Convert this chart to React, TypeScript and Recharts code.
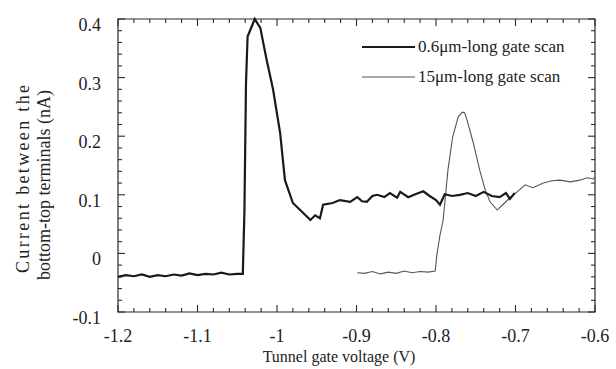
import React from 'react';
import { LineChart, Line, XAxis, YAxis, Label, Legend, ReferenceArea, ReferenceLine } from 'recharts';

const thickX = [
  -1.2, -1.19, -1.18, -1.17, -1.16, -1.15, -1.14, -1.13, -1.12, -1.11, -1.1, -1.09, -1.08, -1.07, -1.06,
  -1.05, -1.043, -1.041, -1.039, -1.037, -1.034, -1.028, -1.021, -1.013, -1.005, -0.996, -0.99, -0.98,
  -0.967, -0.958, -0.952, -0.946, -0.942, -0.93, -0.921, -0.908, -0.899, -0.893, -0.887, -0.88, -0.874,
  -0.865, -0.858, -0.849, -0.845, -0.835, -0.826, -0.816, -0.808, -0.8, -0.795, -0.789, -0.78, -0.77,
  -0.76, -0.75, -0.74, -0.73, -0.72, -0.712, -0.707, -0.701,
];
const thickY = [
  -0.04, -0.037, -0.039, -0.036, -0.04, -0.037, -0.039, -0.036, -0.038, -0.034, -0.037, -0.035, -0.036, -0.033, -0.036,
  -0.035, -0.035, 0.07, 0.29, 0.37, 0.38, 0.4, 0.385, 0.33, 0.28, 0.205, 0.125, 0.086,
  0.069, 0.057, 0.065, 0.06, 0.083, 0.086, 0.091, 0.088, 0.096, 0.089, 0.088, 0.098, 0.1,
  0.096, 0.103, 0.095, 0.105, 0.096, 0.101, 0.106, 0.098, 0.091, 0.083, 0.101, 0.098, 0.1,
  0.103, 0.098, 0.105, 0.098, 0.096, 0.103, 0.093, 0.103,
];

const thinX = [
  -0.899, -0.89, -0.88, -0.87, -0.86, -0.85, -0.84, -0.83, -0.82, -0.81, -0.801, -0.799, -0.795, -0.791,
  -0.785, -0.779, -0.772, -0.767, -0.764, -0.761, -0.753, -0.745, -0.738, -0.732, -0.723, -0.716, -0.707,
  -0.698, -0.688, -0.678, -0.665, -0.654, -0.644, -0.631, -0.619, -0.61, -0.602, -0.6,
];
const thinY = [
  -0.033, -0.034, -0.031, -0.035, -0.032, -0.034, -0.03, -0.033, -0.031, -0.032, -0.03, -0.003, 0.031, 0.057,
  0.142, 0.199, 0.233, 0.241, 0.24, 0.228, 0.188, 0.142, 0.108, 0.088, 0.074, 0.083, 0.095,
  0.105, 0.117, 0.112, 0.12, 0.124, 0.125, 0.122, 0.125, 0.129, 0.127, 0.13,
];

const xTicks = [-1.2, -1.1, -1, -0.9, -0.8, -0.7, -0.6];
const yTicks = [-0.1, 0, 0.1, 0.2, 0.3, 0.4];
const xMinorTicks = [
  -1.18, -1.16, -1.14, -1.12, -1.08, -1.06, -1.04, -1.02, -0.98, -0.96, -0.94, -0.92,
  -0.88, -0.86, -0.84, -0.82, -0.78, -0.76, -0.74, -0.72, -0.68, -0.66, -0.64, -0.62,
];
const yMinorTicks = [
  -0.08, -0.06, -0.04, -0.02, 0.02, 0.04, 0.06, 0.08, 0.12, 0.14, 0.16, 0.18,
  0.22, 0.24, 0.26, 0.28, 0.32, 0.34, 0.36, 0.38,
];

const seriesNames = ['0.6\u03bcm-long gate scan', '15\u03bcm-long gate scan'];

const X_MIN = -1.2;
const X_MAX = -0.6;
const Y_MIN = -0.1;
const Y_MAX = 0.4;
// inward tick lengths, in data units (~7px major, ~4px minor)
const TICK_X = { major: 0.0088, minor: 0.005 };
const TICK_Y = { major: 0.012, minor: 0.007 };

const thickData = thickX.map((x, i) => ({ x, y: thickY[i] }));
const thinData = thinX.map((x, i) => ({ x, y: thinY[i] }));

const FONT = "'Liberation Serif', 'DejaVu Serif', serif";
const INK = '#222';
const FRAME = '#2a2a2a';

// tick segments on all four sides of the frame
const tickSegments: { key: string; seg: { x: number; y: number }[] }[] = [];
const addX = (list: number[], len: number, kind: string) => {
  list.forEach((v) => {
    tickSegments.push({ key: `b${kind}${v}`, seg: [{ x: v, y: Y_MIN }, { x: v, y: Y_MIN + len }] });
    tickSegments.push({ key: `t${kind}${v}`, seg: [{ x: v, y: Y_MAX }, { x: v, y: Y_MAX - len }] });
  });
};
const addY = (list: number[], len: number, kind: string) => {
  list.forEach((v) => {
    tickSegments.push({ key: `l${kind}${v}`, seg: [{ x: X_MIN, y: v }, { x: X_MIN + len, y: v }] });
    tickSegments.push({ key: `r${kind}${v}`, seg: [{ x: X_MAX, y: v }, { x: X_MAX - len, y: v }] });
  });
};
addX(xTicks, TICK_Y.major, 'M');
addX(xMinorTicks, TICK_Y.minor, 'm');
addY(yTicks, TICK_X.major, 'M');
addY(yMinorTicks, TICK_X.minor, 'm');

function BottomTick(props: any) {
  const { x, y, payload } = props;
  return (
    <text x={x} y={y + 30} textAnchor="middle" fontFamily={FONT} fontSize={18} fill={INK}>
      {String(payload.value)}
    </text>
  );
}

function LeftTick(props: any) {
  const { x, y, payload } = props;
  return (
    <text x={x - 17} y={y + 12} textAnchor="end" fontFamily={FONT} fontSize={18} fill={INK}>
      {String(payload.value)}
    </text>
  );
}

function renderLegend() {
  return (
    <div style={{ fontFamily: FONT, fontSize: 17, color: INK }}>
      {seriesNames.map((name, i) => (
        <div key={name} style={{ display: 'flex', alignItems: 'center', height: 30 }}>
          <svg width={54} height={10}>
            <line x1={0} y1={5} x2={53} y2={5} stroke={i === 0 ? '#1a1a1a' : '#555'} strokeWidth={i === 0 ? 2 : 1.1} />
          </svg>
          <span style={{ marginLeft: 2 }}>{name}</span>
        </div>
      ))}
    </div>
  );
}

// both axis titles, placed from the left axis label slot
function AxisTitles() {
  return (
    <g fontFamily={FONT} fill={INK}>
      <text x={29} y={179} fontSize={18} textAnchor="middle" transform="rotate(-90, 29, 179)" textLength={188} lengthAdjust="spacing">
        Current between the
      </text>
      <text x={50} y={185} fontSize={18} textAnchor="middle" transform="rotate(-90, 50, 185)">
        bottom-top terminals (nA)
      </text>
      <text x={339} y={362} fontSize={16} textAnchor="middle">
        Tunnel gate voltage (V)
      </text>
    </g>
  );
}

export default function App() {
  return (
    <div style={{ position: 'absolute', left: 0, top: 0 }}>
      <LineChart width={616} height={369} margin={{ top: 19, right: 21, bottom: 27, left: 58 }}>
        <XAxis xAxisId="b" type="number" dataKey="x" domain={[X_MIN, X_MAX]} ticks={xTicks} height={30}
          tickSize={0} tickMargin={0} tickLine={false} axisLine={false} tick={BottomTick} />
        <YAxis yAxisId="l" type="number" dataKey="y" domain={[Y_MIN, Y_MAX]} ticks={yTicks} width={60}
          tickSize={0} tickMargin={0} tickLine={false} axisLine={false} tick={LeftTick}>
          <Label content={AxisTitles} />
        </YAxis>

        <ReferenceArea xAxisId="b" yAxisId="l" x1={X_MIN} x2={X_MAX} y1={Y_MIN} y2={Y_MAX}
          fill="none" fillOpacity={0} stroke={FRAME} strokeWidth={1.2} ifOverflow="visible" />
        {tickSegments.map((t) => (
          <ReferenceLine key={t.key} xAxisId="b" yAxisId="l" segment={t.seg}
            stroke={FRAME} strokeWidth={1.1} ifOverflow="visible" />
        ))}

        <Legend layout="horizontal" verticalAlign="middle" align="center" content={renderLegend}
          wrapperStyle={{ left: 362, top: 32, width: 240, height: 60 }} />

        <Line xAxisId="b" yAxisId="l" data={thinData} dataKey="y" name={seriesNames[1]} type="linear"
          stroke="#555" strokeWidth={1.1} dot={false} isAnimationActive={false} />
        <Line xAxisId="b" yAxisId="l" data={thickData} dataKey="y" name={seriesNames[0]} type="linear"
          stroke="#1a1a1a" strokeWidth={2.2} dot={false} isAnimationActive={false} />
      </LineChart>
    </div>
  );
}
